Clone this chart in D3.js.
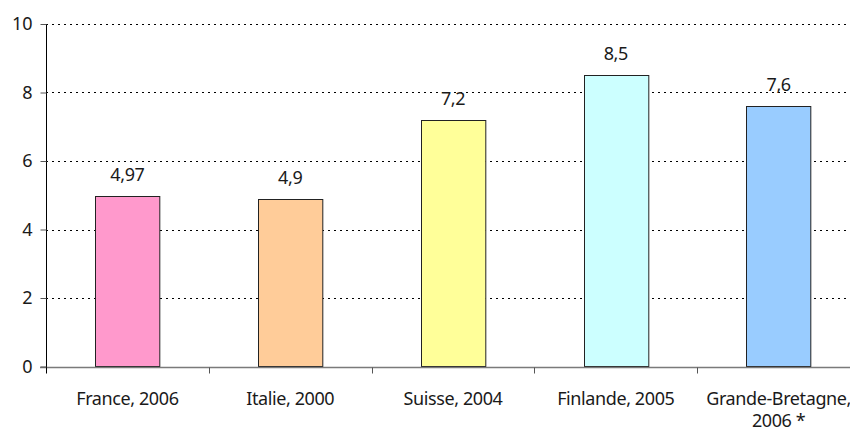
<!DOCTYPE html>
<html>
<head>
<meta charset="utf-8">
<script src="https://cdn.jsdelivr.net/npm/d3@7"></script>
<style>
  body { margin: 0; background: #fff; }
  svg { display: block; font-family: "Noto Sans", sans-serif; }
</style>
</head>
<body>
<div id="chart"></div>
<script>
// data
const categories = ["France, 2006", "Italie, 2000", "Suisse, 2004", "Finlande, 2005", "Grande-Bretagne, 2006 *"];
const labelLines = [["France, 2006"], ["Italie, 2000"], ["Suisse, 2004"], ["Finlande, 2005"], ["Grande-Bretagne,", "2006 *"]];
const values = [4.97, 4.9, 7.2, 8.5, 7.6];
const barColors = ["#ff99cc", "#ffcc99", "#ffff99", "#ccffff", "#99ccff"];
const yTicks = [0, 2, 4, 6, 8, 10];

const width = 850, height = 432;
const margin = { top: 24, left: 46, bottom: 65 };
const plotRight = 860; // plot area runs slightly past the window edge
const fontSize = 18;

const svg = d3.select("#chart").append("svg")
    .attr("width", width)
    .attr("height", height);

const x = d3.scaleBand()
    .domain(categories)
    .range([margin.left, plotRight])
    .paddingInner(0.605)
    .paddingOuter(0.3025);

const y = d3.scaleLinear()
    .domain([0, 10])
    .range([height - margin.bottom - 0.5, margin.top]);

// dotted gridlines
svg.append("g")
  .selectAll("line")
  .data(yTicks.filter(d => d > 0))
  .join("line")
    .attr("x1", margin.left)
    .attr("x2", width)
    .attr("y1", d => Math.round(y(d)) + 0.5)
    .attr("y2", d => Math.round(y(d)) + 0.5)
    .attr("stroke", "#000")
    .attr("stroke-dasharray", "2,4");

// bars
svg.append("g")
  .selectAll("rect")
  .data(values)
  .join("rect")
    .attr("x", (d, i) => Math.round(x(categories[i])) + 0.5)
    .attr("y", d => Math.round(y(d)) + 0.5)
    .attr("width", x.bandwidth())
    .attr("height", d => y(0) - Math.round(y(d)) - 0.5)
    .attr("fill", (d, i) => barColors[i])
    .attr("stroke", "#222")
    .attr("stroke-width", 1);

// value labels
svg.append("g")
    .attr("font-size", fontSize)
    .attr("letter-spacing", -0.4)
    .attr("fill", "#1a1a1a")
    .attr("text-anchor", "middle")
  .selectAll("text")
  .data(values)
  .join("text")
    .attr("x", (d, i) => x(categories[i]) + x.bandwidth() / 2)
    .attr("y", d => y(d) - 15)
    .text(d => String(d).replace(".", ","));

// x axis line + boundary ticks
const base = Math.round(y(0)) + 0.5;
svg.append("line")
    .attr("x1", margin.left - 6)
    .attr("x2", width)
    .attr("y1", base)
    .attr("y2", base)
    .attr("stroke", "#7a7a7a")
    .attr("stroke-width", 1.5);

const gap = (x.step() - x.bandwidth()) / 2;
svg.append("g")
  .selectAll("line")
  .data(categories.slice(1))
  .join("line")
    .attr("x1", d => Math.round(x(d) - gap) + 0.5)
    .attr("x2", d => Math.round(x(d) - gap) + 0.5)
    .attr("y1", base)
    .attr("y2", base + 6)
    .attr("stroke", "#555");

// category labels
svg.append("g")
    .attr("font-size", fontSize)
    .attr("letter-spacing", -0.4)
    .attr("fill", "#1a1a1a")
    .attr("text-anchor", "middle")
  .selectAll("text")
  .data(categories)
  .join("text")
    .attr("transform", d => `translate(${x(d) + x.bandwidth() / 2},${base + 37})`)
    .selectAll("tspan")
    .data(d => labelLines[categories.indexOf(d)])
    .join("tspan")
      .attr("x", 0)
      .attr("y", (d, i) => i * 22)
      .text(d => d);

// y axis
const yAxis = svg.append("g")
    .attr("transform", `translate(${margin.left + 0.5},0)`)
    .call(d3.axisLeft(y).tickValues(yTicks).tickSize(6).tickPadding(8).tickSizeOuter(0));
yAxis.select(".domain")
    .attr("d", `M0,${y(10)}V${base + 6}`)
    .attr("stroke", "#000");
yAxis.selectAll(".tick line").attr("stroke", "#555");
yAxis.selectAll(".tick text")
    .attr("font-family", "Noto Sans, sans-serif")
    .attr("font-size", fontSize)
    .attr("fill", "#1a1a1a");
</script>
</body>
</html>
